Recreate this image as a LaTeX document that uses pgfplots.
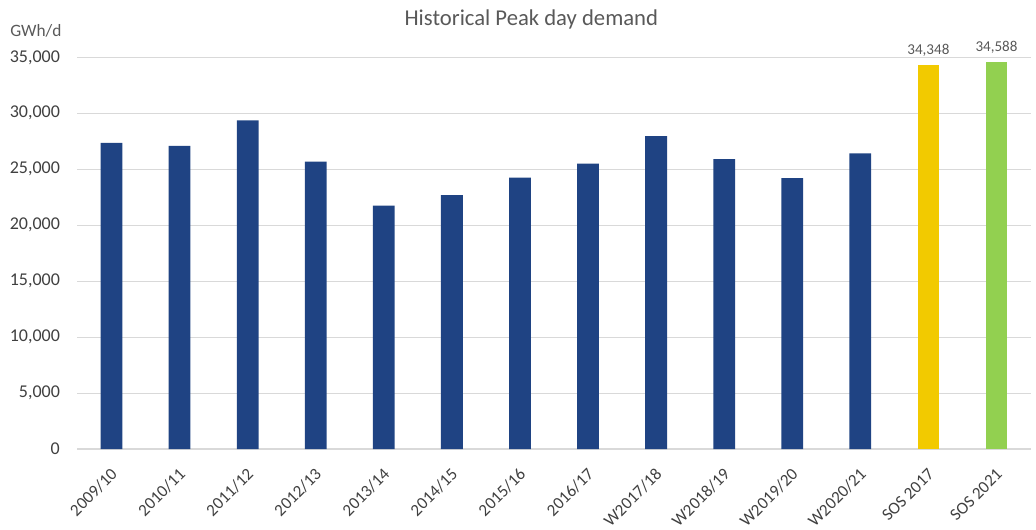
\documentclass[border=0pt]{standalone}
\usepackage{fontspec}
\setmainfont{Carlito}
\usepackage{pgfplots}
\pgfplotsset{compat=1.18}
\definecolor{navy}{HTML}{1F4383}
\definecolor{sosyellow}{HTML}{F2CA00}
\definecolor{sosgreen}{HTML}{92D050}
\definecolor{gridgray}{HTML}{D9D9D9}
\definecolor{txtgray}{HTML}{595959}
\definecolor{tickgray}{HTML}{404040}
\begin{document}
\begin{tikzpicture}
\begin{axis}[
    scale only axis,
    width=714.75pt,
    height=293.8pt,
    xmin=-0.5, xmax=13.5,
    ymin=0, ymax=35000,
    ytick={0,5000,10000,15000,20000,25000,30000,35000},
    xtick={0,...,13},
    xticklabels={2009/10,2010/11,2011/12,2012/13,2013/14,2014/15,2015/16,2016/17,W2017/18,W2018/19,W2019/20,W2020/21,SOS 2017,SOS 2021},
    scaled y ticks=false,
    /pgf/number format/1000 sep={,},
    /pgf/number format/assume math mode=true,
    axis line style={draw=none},
    tick style={draw=none},
    ymajorgrids,
    grid style={gridgray, line width=0.9pt},
    yticklabel style={inner sep=0pt, font=\fontsize{13.5}{16}\selectfont, text=tickgray},
    yticklabel shift=13pt,
    xticklabel style={rotate=45, anchor=east, inner sep=0pt, xshift=3pt, font=\fontsize{12.8}{15}\selectfont, text=tickgray},
    xticklabel shift=19pt,
    title={Historical Peak day demand},
    title style={font=\fontsize{17}{20}\selectfont, text=txtgray, anchor=base, at={(0.5,1)}, yshift=17.5pt, xshift=-17pt},
    nodes near coords style={font=\fontsize{11.3}{13}\selectfont, text=txtgray, inner sep=2pt, yshift=4pt},
]
\addplot[ybar, fill=navy, draw=none, bar width=0.32, bar shift=0pt] coordinates {
    (0,27350) (1,27080) (2,29370) (3,25690) (4,21760) (5,22680) (6,24250)
    (7,25510) (8,27960) (9,25900) (10,24200) (11,26420)};
\addplot[ybar, fill=sosyellow, draw=none, bar width=0.32, bar shift=0pt, nodes near coords] coordinates {(12,34348)};
\addplot[ybar, fill=sosgreen, draw=none, bar width=0.32, bar shift=0pt, nodes near coords] coordinates {(13,34588)};
\end{axis}
\node[anchor=base west, font=\fontsize{13}{15}\selectfont, text=txtgray, inner sep=0pt] at ([xshift=-50.6pt, yshift=15.5pt]current axis.north west) {GWh/d};
\path ([xshift=-58.1pt, yshift=-60pt]current axis.south west) rectangle ([xshift=4.1pt, yshift=43pt]current axis.north east);
\end{tikzpicture}
\end{document}
